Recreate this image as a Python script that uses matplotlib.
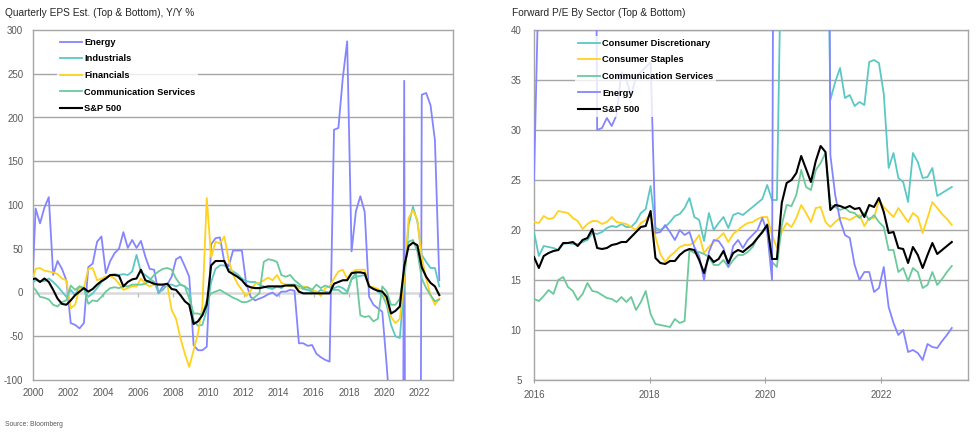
import matplotlib
matplotlib.use("Agg")
import matplotlib.pyplot as plt
import matplotlib.lines as mlines
import numpy as np

plt.rcParams['font.family'] = ['Liberation Sans Narrow', 'Liberation Sans', 'DejaVu Sans']
plt.rcParams['axes.unicode_minus'] = False

# ---- left chart: quarterly EPS estimates, Y/Y % ----
q_start, q_step, q_count = 1999.9, 0.25, 94

eps_energy = [-20, 96, 79, 97, 109, 20, 36, 27, 14, -35,
              -37, -41, -35, 29, 33, 58, 64, 22, 36, 45,
              50, 69, 51, 60, 51, 59, 41, 27, 26, -1,
              7, 9, 18, 38, 41, 30, 18, -60, -66, -66,
              -62, 55, 62, 63, 35, 30, 48, 48, 48, 10,
              -5, -9, -7, -5, -2, 0, -4, 1, 1, 3,
              2, -58, -58, -61, -60, -70, -74, -77, -79, 186,
              188, 245, 287, 47, 93, 110, 92, -5, -14, -18,
              -22, -83, -150, -500, -1500, 242, -2000, -1500, -1500, 226,
              228, 214, 174, 14]
eps_industrials = [10, 14, 13, 13, 16, 12, 7, 1, -5, 3,
                   -3, 7, 5, -5, -1, 5, 12, 16, 20, 21,
                   20, 21, 20, 24, 43, 23, 20, 16, 12, 0,
                   3, 9, 9, 7, 9, 7, 3, -32, -38, -37,
                   -20, 12, 27, 31, 31, 27, 24, 21, 16, 13,
                   12, 12, 9, 7, 5, 4, 7, 5, 9, 9,
                   9, 7, 4, 3, 1, -1, 3, 1, 0, 5,
                   7, 5, 1, 15, 18, 19, 20, 7, 5, 1,
                   -3, -14, -37, -50, -52, 9, 77, 98, 81, 43,
                   35, 28, 28, 7]
eps_financials = [10, 27, 28, 25, 24, 23, 21, 16, 14, -18,
                  -14, 5, 5, 27, 28, 14, 16, 18, 19, 16,
                  10, 3, 5, 7, 7, 16, 10, 7, 9, 10,
                  9, 9, -20, -30, -52, -70, -85, -66, -47, -16,
                  108, 40, 58, 56, 64, 37, 20, 10, 3, -4,
                  2, 10, 11, 14, 17, 14, 20, 11, 9, 7,
                  8, 5, 7, 6, 3, 1, -4, 5, 7, 16,
                  24, 26, 16, 23, 26, 26, 26, 7, 6, 4,
                  1, -9, -28, -35, -30, 15, 85, 94, 83, 40,
                  16, -3, -14, -7]
eps_comm = [8, 3, -5, -6, -8, -14, -16, -11, -9, 8,
            3, 7, 5, -13, -9, -10, -5, 1, 5, 6,
            5, 7, 7, 9, 9, 9, 10, 14, 20, 24,
            27, 28, 26, 16, 9, 7, -7, -24, -24, -26,
            -9, -1, 1, 3, 0, -3, -6, -8, -11, -11,
            -9, -5, -1, 35, 38, 37, 35, 20, 18, 20,
            14, 10, 5, 6, 3, 9, 5, 8, 6, 3,
            3, -1, -1, 16, 22, -26, -28, -27, -33, -30,
            7, 1, -14, -14, -7, 25, 58, 60, 47, 16,
            5, -3, -10, -8]
eps_spx = [15, 16, 12, 16, 12, 3, -7, -13, -14, -9,
           -3, 1, 5, 1, 4, 9, 13, 16, 20, 20,
           19, 7, 12, 15, 16, 26, 14, 12, 10, 9,
           9, 10, 4, 3, -3, -10, -14, -36, -33, -26,
           -14, 31, 36, 36, 36, 24, 21, 18, 14, 8,
           6, 5, 5, 6, 7, 7, 7, 7, 8, 8,
           8, 1, -1, -1, -1, -1, -1, -1, -1, 10,
           12, 14, 14, 22, 23, 23, 22, 7, 4, 2,
           1, -5, -24, -21, -16, 30, 53, 57, 54, 29,
           18, 11, 7, -3]

# ---- right chart: monthly forward P/E ----
m_start, m_end, m_count = 2016.0, 2023.22, 87

pe_discretionary = [19.8, 17.4, 18.4, 18.3, 18.2, 18.0, 18.6, 18.7, 18.6, 18.6,
                    18.8, 19.0, 19.7, 19.6, 19.8, 20.2, 20.4, 20.3, 20.6, 20.3,
                    20.3, 20.8, 21.7, 22.1, 24.4, 20.2, 20.0, 20.3, 20.8, 21.4,
                    21.6, 22.2, 23.2, 21.3, 21.0, 18.9, 21.7, 20.0, 20.7, 21.3,
                    20.2, 21.5, 21.7, 21.5, 21.9, 22.3, 22.7, 23.1, 24.5, 23.0,
                    23.0, 52, 60, 65, 70, 72, 75, 72, 70, 69,
                    68, 33.0, 34.8, 36.2, 33.2, 33.5, 32.4, 32.8, 32.5, 36.8,
                    37.0, 36.7, 33.6, 26.2, 27.7, 25.2, 24.8, 22.8, 27.7, 26.8,
                    25.2, 25.3, 26.2, 23.4, 23.7, 24.0, 24.3]
pe_staples = [20.8, 20.7, 21.4, 21.1, 21.2, 21.9, 21.8, 21.7, 21.2, 20.9,
              20.1, 20.6, 20.9, 20.9, 20.6, 20.8, 21.3, 20.8, 20.7, 20.6,
              20.3, 20.0, 20.7, 21.0, 21.6, 19.3, 17.6, 16.8, 17.4, 17.8,
              18.3, 18.5, 18.5, 18.8, 19.5, 17.7, 18.3, 18.8, 19.2, 19.7,
              18.8, 19.6, 20.0, 20.4, 20.7, 20.8, 21.1, 21.3, 21.3, 19.5,
              18.2, 19.8, 20.7, 20.3, 21.2, 22.5, 21.7, 20.8, 22.2, 22.3,
              20.8, 20.3, 20.8, 21.2, 21.2, 21.0, 21.3, 21.5, 20.4, 21.2,
              21.2, 23.0, 22.3, 21.8, 21.3, 22.2, 21.5, 20.8, 21.7, 21.3,
              19.7, 21.2, 22.8, 22.2, 21.6, 21.1, 20.5]
pe_comm = [13.1, 12.9, 13.4, 14.0, 13.6, 15.0, 15.3, 14.3, 13.9, 13.0,
           13.6, 14.7, 13.9, 13.8, 13.5, 13.2, 13.1, 12.8, 13.3, 12.8,
           13.3, 12.0, 12.8, 13.9, 11.6, 10.6, 10.5, 10.4, 10.3, 11.1,
           10.7, 10.9, 18.0, 17.7, 17.8, 17.6, 17.3, 16.5, 16.5, 17.0,
           16.3, 17.0, 17.5, 17.5, 17.8, 18.3, 19.2, 19.7, 20.6, 16.8,
           16.3, 20.5, 22.5, 22.4, 23.5, 26.0, 24.3, 24.0, 26.0, 26.7,
           27.7, 22.5, 22.3, 22.0, 22.2, 21.8, 21.7, 21.2, 21.7, 21.0,
           21.5, 20.8, 20.3, 18.0, 18.0, 15.8, 16.2, 14.9, 16.2, 15.8,
           14.2, 14.5, 15.8, 14.5, 15.1, 15.8, 16.4]
pe_energy = [25.0, 46, 55, 60, 65, 70, 75, 80, 85, 90,
             85, 90, 120, 30.0, 30.2, 31.2, 30.4, 31.5, 35.8, 35.0,
             33.5, 35.3, 35.8, 36.3, 36.8, 19.7, 19.8, 20.5, 19.8, 19.0,
             20.0, 19.5, 19.8, 18.3, 17.4, 15.0, 17.8, 19.0, 18.9, 18.2,
             16.3, 18.4, 19.0, 18.2, 19.0, 19.5, 20.0, 21.2, 19.8, 15.0,
             150, 140, 120, 100, 90, 85, 80, 90, 100, 110,
             130, 27.5, 23.5, 21.0, 19.5, 19.2, 16.5, 15.0, 15.8, 15.8,
             13.8, 14.2, 16.3, 12.3, 10.7, 9.5, 10.0, 7.8, 8.0, 7.7,
             7.0, 8.6, 8.3, 8.2, 8.9, 9.5, 10.2]
pe_spx = [17.3, 16.2, 17.4, 17.7, 17.9, 18.0, 18.7, 18.7, 18.8, 18.4,
          19.0, 19.2, 20.1, 18.2, 18.1, 18.2, 18.5, 18.6, 18.8, 18.8,
          19.3, 19.8, 20.3, 20.4, 21.9, 17.2, 16.7, 16.6, 16.9, 16.9,
          17.5, 17.9, 18.1, 18.0, 17.0, 15.7, 17.4, 16.8, 17.1, 17.9,
          16.7, 17.7, 18.0, 17.8, 18.2, 18.6, 19.2, 19.8, 20.5, 17.1,
          17.1, 22.7, 24.7, 25.0, 25.7, 27.4, 26.1, 24.8, 26.9, 28.4,
          27.8, 22.0, 22.5, 22.4, 22.2, 22.4, 22.1, 22.2, 21.3, 22.5,
          22.3, 23.2, 21.8, 19.7, 19.8, 18.2, 18.1, 16.7, 18.3, 17.5,
          16.2, 17.5, 18.7, 17.6, 18.0, 18.4, 18.8]

PURPLE = '#8585FF'
TEAL = '#5CC8C4'
GOLD = '#FFD21F'
GREEN = '#6CC99C'
GRID = '#A6A6A6'
TICKC = '#595959'

qx = q_start + q_step * np.arange(q_count)
mx = np.linspace(m_start, m_end, m_count)

fig = plt.figure(figsize=(9.77, 4.33), dpi=100)
ax1 = fig.add_axes([33 / 977, 53 / 433, 420 / 977, 350 / 433])
ax2 = fig.add_axes([534 / 977, 53 / 433, 434 / 977, 350 / 433])


def style_axes(ax, ypad):
    for s in ax.spines.values():
        s.set_color(GRID)
        s.set_linewidth(1.0)
    ax.tick_params(axis='y', length=0, pad=ypad, labelsize=7, labelcolor=TICKC)
    ax.tick_params(axis='x', labelsize=7, labelcolor=TICKC)
    ax.set_axisbelow(True)


leg_kw = dict(loc='upper left', frameon=True, framealpha=0.8, edgecolor='none',
              facecolor='white', handlelength=2.4, handletextpad=0.22,
              labelspacing=0.82, borderpad=0.3,
              prop={'weight': 'bold', 'size': 6.7})

# left
style_axes(ax1, 7)
lw = 1.3
ax1.plot(qx, eps_energy, color=PURPLE, lw=lw, label='Energy', zorder=3)
ax1.plot(qx, eps_industrials, color=TEAL, lw=lw, label='Industrials', zorder=3)
ax1.plot(qx, eps_financials, color=GOLD, lw=lw, label='Financials', zorder=3)
ax1.plot(qx, eps_comm, color=GREEN, lw=lw, label='Communication Services', zorder=3)
ax1.plot(qx, eps_spx, color='black', lw=1.5, label='S&P 500', zorder=4)
ax1.set_ylim(-100, 300)
ax1.set_xlim(2000, 2023.93)
ax1.set_yticks(np.arange(-100, 301, 50))
yrs1 = np.arange(2000, 2023, 2)
ax1.set_xticks(yrs1)
ax1.tick_params(axis='x', length=0, pad=6)
for v in np.arange(-50, 300, 50):
    if v != 0:
        ax1.axhline(v, color=GRID, lw=1.0, zorder=1)
ax1.axhline(0, color='#D9D9D9', lw=1.8, zorder=1)
ax1.plot(yrs1, np.zeros(len(yrs1)), ls='none', marker=mlines.TICKDOWN,
         ms=3, mew=1, color='#BFBFBF', zorder=1)
leg1 = ax1.legend(bbox_to_anchor=(0.046, 0.999), **leg_kw)
leg1.get_frame().set_boxstyle('square', pad=0)
ax1.set_title('Quarterly EPS Est. (Top & Bottom), Y/Y %', loc='left', x=-0.067,
              fontsize=7.3, pad=10, color='#262626')

# right
style_axes(ax2, 9)
ax2.plot(mx, pe_discretionary, color=TEAL, lw=lw, label='Consumer Discretionary', zorder=3)
ax2.plot(mx, pe_staples, color=GOLD, lw=lw, label='Consumer Staples', zorder=3)
ax2.plot(mx, pe_comm, color=GREEN, lw=lw, label='Communication Services', zorder=3)
ax2.plot(mx, pe_energy, color=PURPLE, lw=lw, label='Energy', zorder=3)
ax2.plot(mx, pe_spx, color='black', lw=1.5, label='S&P 500', zorder=4)
ax2.set_ylim(5, 40)
ax2.set_xlim(2016, 2023.5)
ax2.set_yticks(np.arange(5, 41, 5))
ax2.set_xticks([2016, 2018, 2020, 2022])
ax2.tick_params(axis='x', length=4, direction='inout', color=GRID, pad=5)
ax2.yaxis.grid(True, color=GRID, lw=1.0)
leg2 = ax2.legend(bbox_to_anchor=(0.084, 0.996), **leg_kw)
leg2.get_frame().set_boxstyle('square', pad=0)
ax2.set_title('Forward P/E By Sector (Top & Bottom)', loc='left', x=-0.05,
              fontsize=7.3, pad=10, color='#262626')

fig.text(5 / 977, 1 - 424 / 433, 'Source: Bloomberg', fontsize=4.9, color=TICKC,
         va='center', ha='left')

fig.savefig('out.png', dpi=100)
